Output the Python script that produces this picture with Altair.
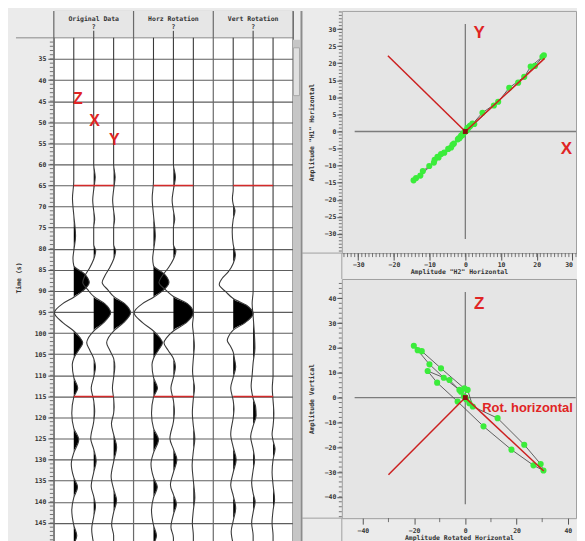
import altair as alt
import pandas as pd

# ---------------- seismic panel data ----------------
group_names = ["Original Data", "Horz Rotation", "Vert Rotation"]
group_subs = ["?", "?", "?"]
pick_times = [65, 115]
time_ticks = list(range(35, 146, 5))
minor_time_ticks = list(range(31, 150))

# Original data: Z, X, Y  (time in ms, amplitude in display units)
z_t = [30, 64, 68, 72, 77, 80.5, 82.3, 84, 86, 88, 90, 91.5, 93, 95.2, 97.5, 99.5, 101, 102.3, 104, 106,
       107.5, 110.5, 113, 115.2, 119, 122.5, 125.3, 128.4, 131, 134.2, 136.5, 139, 142, 145.5, 148, 150]
z_a = [0, 0, -1.3, 0, 1.8, 0, -0.8, 0, 11, 15.5, 9, 0, -11, -19.5, -11, 0, 6, 9, 5, 0,
       -1.5, 0, 4, 0, -2, 0, 5, 0, -2.5, 0, 3.8, 0, -2, 0, 3, 0]

x_t = [30, 60, 63, 66, 68.5, 71, 73, 75, 79, 80.5, 82.5, 84.5, 86.5, 88, 89.7, 91.3, 93, 95.2, 97.5, 99.5,
       101, 102.3, 104, 106, 108, 110.5, 113, 116, 118.5, 121, 125, 127.5, 130.3, 133, 136.3, 138.7, 141, 143.5, 146.5, 150]
x_a = [0, 0, 1.5, 0, -1, 0, 1, 0, 0, 2, 0, -4, -9, -11, -6, 0, 11, 17, 10, 0,
       -5, -7, -4, 0, 1.8, 0, -2.5, 0, 1, 0, -3, 0, 2.5, 0, -2.5, 0, 1.8, 0, -2, 0]

y_t = [30, 60, 63, 66, 68.5, 71, 73, 75, 79, 80.5, 82.5, 84.5, 86.5, 88, 89.7, 91.3, 93, 95.2, 97.5, 99.5,
       101, 102.3, 104, 106, 108, 110.5, 113, 115.5, 117.5, 119, 121.5, 124, 127, 130.5, 134, 137, 139.7, 142.5, 145.5, 148, 150]
y_a = [0, 0, 1.5, 0, -1, 0, 1, 0, 0, 2, 0, -4, -9, -11.5, -6, 0, 11, 17, 10, 0,
       -5, -7, -4, 0, 1.2, 0, -1.2, 0, 0.5, 0, -2.2, 0, 3, 0, -2.5, 0, 3, 0, -2, 0, 0]

# Horizontal rotation: radial (H1) and transverse (H2)
h1_t = [30, 60, 63, 66, 68.5, 71, 73, 75, 79, 80.5, 82.5, 84.5, 86.5, 88, 89.7, 91.3, 93, 95.2, 97.5, 99.5,
        101, 102.3, 104, 106, 108, 110.5, 113, 116, 118.5, 121, 125, 127.5, 130, 133, 136, 138.3, 140.5, 143, 146, 148.5, 150]
h1_a = [0, 0, 2, 0, -1.3, 0, 1.3, 0, 0, 2.5, 0, -5, -11.5, -14.5, -8, 0, 14, 20, 13, 0,
        -6.5, -9.5, -5.5, 0, 2, 0, -2.5, 0, 1, 0, -3.5, 0, 3.5, 0, -3, 0, 3, 0, -2.5, 0, 0]

h2_t = [30, 96, 98, 100, 103, 106, 109, 111, 113, 115.5, 119, 122, 125, 128, 131.5, 135, 139, 142, 145, 148, 150]
h2_a = [0, 0, -0.8, 0, 1, 0, -0.8, 0, 1.2, 0, -1, 0, 1.5, 0, -1.2, 0, 1.5, 0, -1, 0, 0]

# Vertical rotation: L, Q, T
l_t = [30, 66, 68, 69.5, 71, 73, 76, 79, 81.5, 83.5, 85.5, 87, 88.5, 90.3, 91.8, 93.5, 95.4, 97.5, 99.3, 100.5,
       101.7, 103, 104.5, 106, 108, 110.5, 113, 116, 118, 120, 124, 127, 130, 133, 136, 138.5, 141.5, 144.5, 147, 150]
l_a = [0, 0, -0.8, 0, 1.8, 0, -1, 0, 2.2, 0, -5, -11, -14, -7, 0, 14, 20, 12, 0, -4,
       -6, -3, 0, 1.2, 2.5, 0, -2.5, 0, 0.8, 0, -2.5, 0, 3, 0, -2.5, 0, 2.5, 0, -2, 0]

q_t = [30, 90, 93, 96, 100, 103.5, 107, 110, 112.5, 115.5, 117.5, 119.5, 122, 124.5, 127.5, 130, 132.5, 135.5,
       138, 140, 142.5, 145, 148, 150]
q_a = [0, 0, -1, 0, 1.2, 1.8, 0, -1, -2, 0, 2.5, 3, 0, -2.5, 0, 1.5, 0, -1.5, 0, 2, 0, -1.5, 0, 0]

tt_t = [30, 110, 113, 116, 119, 122, 124, 125.5, 127.5, 130, 133, 136, 139.5, 142, 145, 148, 150]
tt_a = [0, 0, -0.8, 0, 0.8, 0, -1, 0, 2, 0, -1, 0, 1.5, 0, -1, 0, 0]

# ---------------- hodogram data ----------------
top_h2 = [0.0, 1.2, 2.0, 0.6, -1.2, -2.1, -4.0, -5.9, -7.8, -10.1, -11.9, -13.8, -14.5, -12.6, -8.8, -3.2,
          0.5, 4.8, 9.2, 12.3, 16.5, 18.3, 21.6, 22.0, 19.5, 14.8, 8.0, 2.5, -1.0, -3.6, -6.8, -8.6, -7.5,
          -4.8, -1.8, 0.2, 1.4, 0.8, -0.6, -1.6, -0.8, 0.0]
top_h1 = [0.0, 1.5, 2.3, 1.1, -1.3, -2.3, -4.7, -6.2, -7.4, -10.1, -11.6, -13.6, -14.3, -12.9, -9.1, -3.5,
          0.4, 5.5, 8.7, 12.8, 16.0, 19.0, 21.9, 22.3, 19.2, 14.3, 7.6, 2.2, -1.1, -3.9, -6.6, -8.3, -7.6,
          -5.1, -2.0, 0.3, 1.7, 1.0, -0.5, -1.9, -1.0, 0.0]
top_dir_x = [22.2, -21.7]
top_dir_y = [21.4, 22.2]

bot_h = [0.0, -2.3, -8.4, -14.0, -18.6, -20.1, -17.0, -9.5, -0.4, 0.9, 2.9, 12.6, 23.0, 29.4, 30.5, 26.6,
         18.0, 7.1, -3.0, -11.0, -14.7, -6.2, -1.7, 1.6, 0.3, -0.6, 0.0]
bot_v = [0.0, 3.1, 8.0, 13.4, 19.1, 20.9, 18.7, 11.8, 3.7, 3.1, -3.6, -8.3, -19.0, -26.8, -29.4, -27.3,
         -21.0, -11.6, -1.6, 6.0, 10.7, 7.1, 2.4, -2.3, -0.7, 0.5, 0.0]
bot_dir_x = [30.6, -30.0]
bot_dir_y = [-29.6, -31.1]

# ---------------- styling / layout ----------------
FONT_M = "DejaVu Sans Mono"
FONT_S = "Liberation Sans"
RED = "#e02424"
GREEN = "#3bec3b"
BG = "#ebebeb"

W_L, H_L = 240, 535
PX_MS = 4.233
T0 = 23.62
T1 = T0 + H_L / PX_MS
GAIN = 1 / 80.0

one = pd.DataFrame({"k": [0]})

trace_list = [(0, 0, z_t, z_a), (0, 1, x_t, x_a), (0, 2, y_t, y_a),
              (1, 0, z_t, z_a), (1, 1, h1_t, h1_a), (1, 2, h2_t, h2_a),
              (2, 0, l_t, l_a), (2, 1, q_t, q_a), (2, 2, tt_t, tt_a)]
rows = []
for g, c, ts, amps in trace_list:
    base = g + 0.25 * (c + 1)
    for t, a in zip(ts, amps):
        rows.append({"trace": f"tr{g}{c}", "t": t, "base": base,
                     "xw": base + a * GAIN, "xp": base + max(a, 0) * GAIN})
df_tr = pd.DataFrame(rows)

tscale = alt.Scale(domain=[T0, T1], reverse=True, nice=False, zero=False)
gscale = alt.Scale(domain=[0, 3], nice=False, zero=False)

axT = alt.Axis(values=time_ticks, title="Time (s)", grid=True, gridColor="#5e5e5e", gridWidth=1.1,
               domain=False, tickSize=6, tickColor="#555", labelFont=FONT_M, labelFontSize=6.5,
               labelFontWeight="bold", labelColor="#333", labelPadding=2, titleFont=FONT_M,
               titleFontSize=6.5, titleFontWeight="bold", titleColor="#333", titlePadding=13)


def X(f):
    return alt.X(f, scale=gscale, axis=None)


def Y(f):
    return alt.Y(f, scale=tscale, axis=axT)


header_bg = alt.Chart(one).mark_rect(color="#e6e6e6").encode(
    x=alt.value(0), x2=alt.value(W_L), y=alt.value(0), y2=alt.value(27))
header_line = alt.Chart(one).mark_rule(color="#8a8a8a").encode(
    x=alt.value(-38), x2=alt.value(W_L), y=alt.value(27))
bounds_rule = alt.Chart(one).mark_rule(color=BG).encode(
    x=alt.value(-45), x2=alt.value(-44), y=alt.value(1))

df_g = pd.DataFrame({"gx": [0, 1, 2, 3]})
dividers = alt.Chart(df_g).mark_rule(color="#6a6a6a", strokeWidth=1.2).encode(
    x=X("gx:Q"), y=alt.value(0), y2=alt.value(H_L))

df_h = pd.DataFrame({"gc": [0.5, 1.5, 2.5], "name": group_names, "sub": group_subs})
htext1 = alt.Chart(df_h).mark_text(font=FONT_M, fontSize=6.5, fontWeight="bold", color="#333").encode(
    x=X("gc:Q"), y=alt.value(8), text="name:N")
htext2 = alt.Chart(df_h).mark_text(font=FONT_M, fontSize=6.5, fontWeight="bold", color="#333").encode(
    x=X("gc:Q"), y=alt.value(16), text="sub:N")
htick = alt.Chart(df_h).mark_rule(color="#555", strokeWidth=1.2).encode(
    x=X("gc:Q"), y=alt.value(20), y2=alt.value(27))

minor = alt.Chart(pd.DataFrame({"t": minor_time_ticks})).mark_rule(color="#555", strokeWidth=0.8).encode(
    y=Y("t:Q"), x=alt.value(-4), x2=alt.value(-0.5))

pick_rows = [{"x1": g + 0.25, "x2": g + 0.75, "t": tp} for g in range(3) for tp in pick_times]
picks = alt.Chart(pd.DataFrame(pick_rows)).mark_rule(color="#d42a2a", strokeWidth=1.5).encode(
    x=X("x1:Q"), x2="x2:Q", y=Y("t:Q"))

fills = alt.Chart(df_tr).mark_area(color="black", interpolate="monotone", orient="horizontal",
                                   clip=True).encode(
    y=Y("t:Q"), x=X("base:Q"), x2="xp:Q", detail="trace:N")
lines = alt.Chart(df_tr).mark_area(fillOpacity=0, stroke="#3a3a3a", strokeWidth=1.1, interpolate="monotone",
                                   orient="horizontal", clip=True).encode(
    y=Y("t:Q"), x=X("xw:Q"), x2="xw:Q", detail="trace:N")

df_lbl = pd.DataFrame({"lx": [0.30, 0.51, 0.76], "lt": [44.4, 49.6, 54.3], "txt": ["Z", "X", "Y"]})
letters = alt.Chart(df_lbl).mark_text(font=FONT_S, fontSize=16, fontWeight="bold", color=RED).encode(
    x=X("lx:Q"), y=Y("lt:Q"), text="txt:N")

scroll = alt.Chart(one).mark_rect(color="#c6c6c6").encode(
    x=alt.value(240), x2=alt.value(247), y=alt.value(29), y2=alt.value(H_L))
thumb = alt.Chart(one).mark_rect(color="#e0e0e0", stroke="#a8a8a8", strokeWidth=1).encode(
    x=alt.value(240.5), x2=alt.value(246.5), y=alt.value(37), y2=alt.value(85))
sep = alt.Chart(one).mark_rule(color="#8c8c8c", strokeWidth=2).encode(
    x=alt.value(248.5), y=alt.value(0), y2=alt.value(H_L))

left = alt.layer(minor, header_bg, header_line, bounds_rule, dividers, htick, htext1, htext2,
                 fills, lines, picks, letters, scroll, thumb, sep).properties(
    width=W_L, height=H_L, view=alt.ViewBackground(fill="white", stroke="#7a7a7a", strokeWidth=1))


def axis(**kw):
    base = dict(domain=False, grid=False, tickColor="#555", labelFont=FONT_M, labelFontSize=6.5,
                labelFontWeight="bold", labelColor="#333", titleFont=FONT_M, titleFontSize=6.5,
                titleFontWeight="bold", titleColor="#333")
    base.update(kw)
    return alt.Axis(**base)


def hodogram(hx, vy, dir_x, dir_y, cross, xdom, ydom, w, h, xvals, yvals, xminor, yminor,
             xtitle, ytitle, xtick, xpad, ytpad, letters_df, rot_df):
    xs = alt.Scale(domain=xdom, nice=False, zero=False)
    ys = alt.Scale(domain=ydom, nice=False, zero=False)
    axX = axis(values=xvals, title=xtitle, tickSize=xtick, labelPadding=xpad, titlePadding=1,
               labelFlush=6)
    axY = axis(values=yvals, title=ytitle, tickSize=5, labelPadding=1, titlePadding=ytpad)

    def XX(f):
        return alt.X(f, scale=xs, axis=axX)

    def YY(f):
        return alt.Y(f, scale=ys, axis=axY)

    crossl = alt.Chart(pd.DataFrame(cross)).mark_rule(color="#7c7c7c", strokeWidth=1.3, clip=True).encode(
        x=XX("x1:Q"), x2="x2:Q", y=YY("y1:Q"), y2="y2:Q")
    df_p = pd.DataFrame({"i": list(range(len(hx))), "h": hx, "v": vy})
    path = alt.Chart(df_p).mark_line(color="#505050", strokeWidth=0.9, clip=True).encode(
        x=XX("h:Q"), y=YY("v:Q"), order="i:Q")
    pts = alt.Chart(df_p).mark_circle(size=38, color=GREEN, opacity=1).encode(x=XX("h:Q"), y=YY("v:Q"))
    df_d = pd.DataFrame({"x0": [0, 0], "y0": [0, 0], "x1": dir_x, "y1": dir_y})
    red = alt.Chart(df_d).mark_rule(color="#cc2020", strokeWidth=1.5).encode(
        x=XX("x0:Q"), y=YY("y0:Q"), x2="x1:Q", y2="y1:Q")
    org = alt.Chart(pd.DataFrame({"h": [0], "v": [0]})).mark_square(size=24, color="#8a1010", opacity=1).encode(
        x=XX("h:Q"), y=YY("v:Q"))
    ym = alt.Chart(pd.DataFrame({"v": yminor})).mark_rule(color="#555", strokeWidth=0.8).encode(
        y=YY("v:Q"), x=alt.value(-3), x2=alt.value(0))
    xm = alt.Chart(pd.DataFrame({"v": xminor})).mark_rule(color="#555", strokeWidth=0.8).encode(
        x=XX("v:Q"), y=alt.value(h), y2=alt.value(h + 4))
    band = alt.Chart(one).mark_rule(color="#a0a0a0", strokeWidth=1).encode(
        x=alt.value(0), y=alt.value(h), y2=alt.value(h + 26))
    band2 = alt.Chart(one).mark_rule(color="#a0a0a0", strokeWidth=1).encode(
        x=alt.value(-40), x2=alt.value(0), y=alt.value(h))
    lt = alt.Chart(letters_df).mark_text(font=FONT_S, fontSize=17, fontWeight="bold", color=RED).encode(
        x=XX("tx:Q"), y=YY("ty:Q"), text="label:N")
    layers = [crossl, path, pts, red, org, ym, xm, band, band2, lt]
    if rot_df is not None:
        layers.append(alt.Chart(rot_df).mark_text(font=FONT_S, fontSize=13, fontWeight="bold", color=RED,
                                                  align="left", baseline="middle").encode(
            x=XX("tx:Q"), y=YY("ty:Q"), text="label:N"))
    return alt.layer(*layers).properties(
        width=w, height=h, view=alt.ViewBackground(fill="#e5e5e5", stroke="#a0a0a0", strokeWidth=1))


top = hodogram(
    top_h2, top_h1, top_dir_x, top_dir_y,
    {"x1": [0, -31], "x2": [0, 31], "y1": [-31.5, 0], "y2": [31.5, 0]},
    [-34.6, 31.0], [-35.6, 35.3], 235, 243,
    list(range(-30, 31, 10)), list(range(-30, 31, 5)),
    list(range(-34, 32)), list(range(-35, 36)),
    'Amplitude "H2" Horizontal', 'Amplitude "H1" Horizontal', 7, 1, 10,
    pd.DataFrame({"tx": [3.9, 28.3], "ty": [28.9, -5.2], "label": ["Y", "X"]}), None)

bottom = hodogram(
    bot_h, bot_v, bot_dir_x, bot_dir_y,
    {"x1": [0, -43.2], "x2": [0, 43.1], "y1": [-43.0, 0], "y2": [42.6, 0]},
    [-48.2, 43.2], [-48.6, 47.8], 235, 240,
    [-40, -20, 0, 20, 40], list(range(-40, 41, 10)),
    [-30, -10, 10, 30], list(range(-48, 48, 2)),
    "Amplitude Rotated Horizontal", "Amplitude Vertical", 6, 3, 10,
    pd.DataFrame({"tx": [5.4], "ty": [37.8], "label": ["Z"]}),
    pd.DataFrame({"tx": [6.6], "ty": [-4.4], "label": ["Rot. horizontal"]}))

right = alt.vconcat(top, bottom, spacing=26, bounds="flush")
chart = alt.hconcat(left, right, spacing=49, bounds="flush").properties(background=BG, padding=0)

chart.save("out.html", embed_options={"renderer": "svg", "actions": False})
